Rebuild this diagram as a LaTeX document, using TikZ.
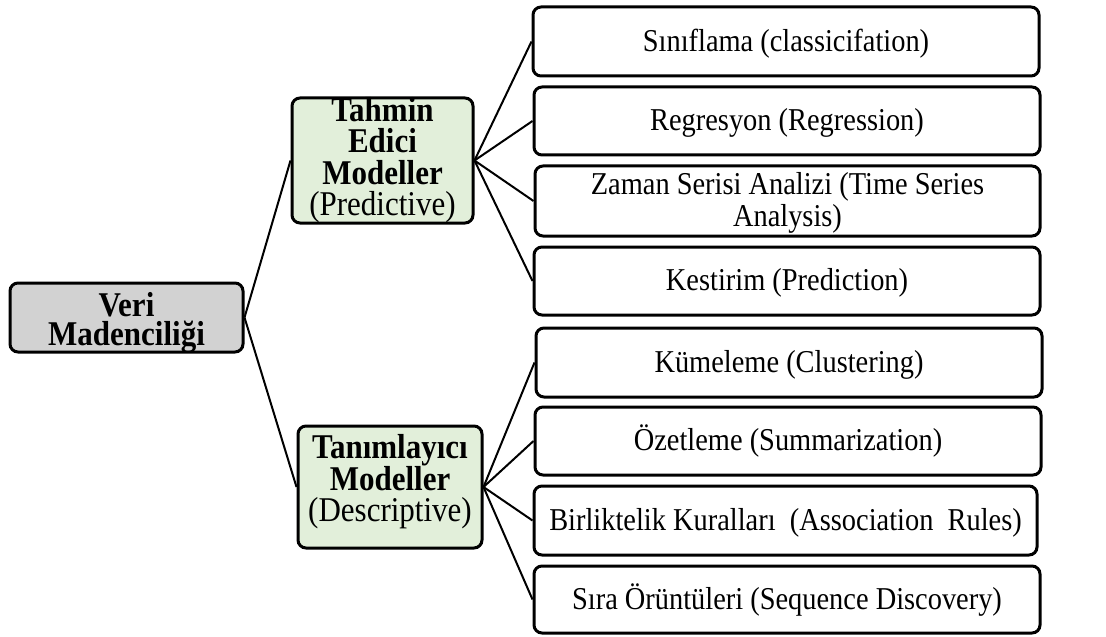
\documentclass[tikz,border=0pt]{standalone}
\usepackage{graphicx}
\usepackage{fontspec}
\setmainfont{Liberation Serif}
\definecolor{rootgray}{RGB}{210,210,210}
\definecolor{leafgreen}{RGB}{226,239,218}
\newcommand{\boxtext}[2]{\smash{\raisebox{-#1}{\scalebox{1}[1.12]{\begin{tabular}{@{}c@{}}#2\end{tabular}}}}}
\newcommand{\tline}[1]{\smash{#1}}
\tikzset{
  basebox/.style={draw=black, line width=1.5pt, rounded corners=4pt, inner sep=0pt, align=center},
  rootbox/.style={basebox, fill=rootgray, font=\fontsize{15.5}{12.95}\selectfont\bfseries},
  midbox/.style={basebox, fill=leafgreen, font=\fontsize{15.5}{14.1}\selectfont},
  leafbox/.style={basebox, fill=white, font=\fontsize{14.2}{14.3}\selectfont},
  conn/.style={draw=black, line width=1pt}
}
\begin{document}
\begin{tikzpicture}[x=0.5pt, y=-0.5pt]
\useasboundingbox (0,0) rectangle (1106,636);
\node[rootbox, minimum width=116.5pt, minimum height=34.5pt] (root) at (126.5,317.5)
  {\boxtext{7.9pt}{\tline{Veri}\\\tline{Madenciliği}}};
\node[midbox, minimum width=90.5pt, minimum height=62.5pt] (pred) at (382.5,160.5)
  {\boxtext{4.9pt}{\tline{\textbf{Tahmin}}\\\tline{\textbf{Edici}}\\\tline{\textbf{Modeller}}\\\tline{(Predictive)}}};
\node[midbox, minimum width=92pt, minimum height=61pt] (desc) at (390,487)
  {\boxtext{2.4pt}{\tline{\textbf{Tanımlayıcı}}\\\tline{\textbf{Modeller}}\\\tline{(Descriptive)}}};
\node[leafbox, minimum width=253pt, minimum height=34.5pt] (b1) at (786,41.5) {\boxtext{5.8pt}{\tline{Sınıflama (classicifation)}}};
\node[leafbox, minimum width=253pt, minimum height=34pt] (b2) at (787,121) {\boxtext{5.8pt}{\tline{Regresyon (Regression)}}};
\node[leafbox, minimum width=252.5pt, minimum height=35pt] (b3) at (787.5,201) {\boxtext{5.8pt}{\tline{Zaman Serisi Analizi (Time Series}\\\tline{Analysis)}}};
\node[leafbox, minimum width=253pt, minimum height=34pt] (b4) at (787,281) {\boxtext{5.8pt}{\tline{Kestirim (Prediction)}}};
\node[leafbox, minimum width=253pt, minimum height=34.5pt] (b5) at (789,362.5) {\boxtext{5.8pt}{\tline{Kümeleme (Clustering)}}};
\node[leafbox, minimum width=253pt, minimum height=34pt] (b6) at (788,441) {\boxtext{5.8pt}{\tline{Özetleme (Summarization)}}};
\node[leafbox, minimum width=251.5pt, minimum height=34.5pt] (b7) at (785.5,520.5) {\boxtext{5.8pt}{\tline{Birliktelik Kuralları~ (Association~ Rules)}}};
\node[leafbox, minimum width=253pt, minimum height=33.5pt] (b8) at (787,599.5) {\boxtext{5.8pt}{\tline{Sıra Örüntüleri (Sequence Discovery)}}};
\draw[conn] (root.east) -- (pred.west);
\draw[conn] (root.east) -- (desc.west);
\foreach \b in {b1,b2,b3,b4} \draw[conn] (pred.east) -- (\b.west);
\foreach \b in {b5,b6,b7,b8} \draw[conn] (desc.east) -- (\b.west);
\end{tikzpicture}
\end{document}
